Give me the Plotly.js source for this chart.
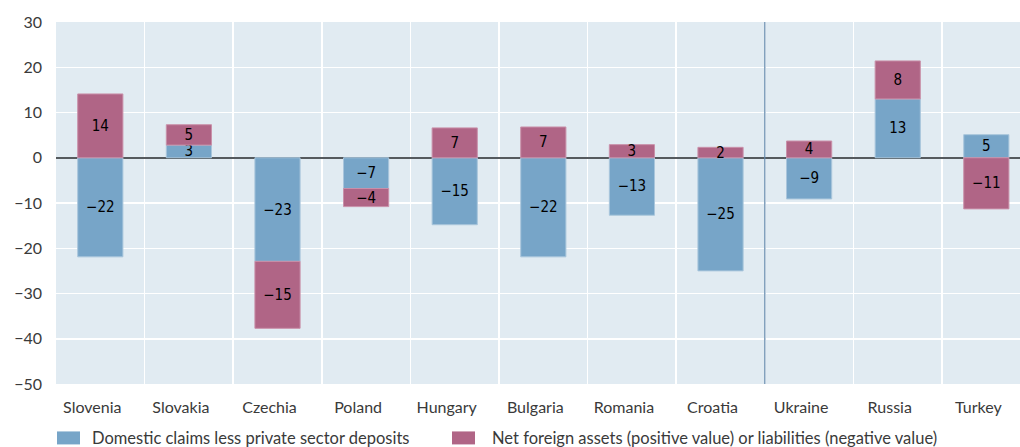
<!DOCTYPE html>
<html><head><meta charset="utf-8">
<script src="https://cdn.plot.ly/plotly-3.0.1.min.js"></script>
<style>html,body{margin:0;padding:0;background:#fff}#chart{width:1020px;height:447px}</style>
</head><body><div id="chart"></div>
<script>
var categories = ["Slovenia","Slovakia","Czechia","Poland","Hungary","Bulgaria","Romania","Croatia","Ukraine","Russia","Turkey"];
var domesticClaims = [-21.9, 2.8, -22.9, -6.8, -14.8, -21.9, -12.7, -25.0, -9.1, 13.0, 5.1];
var netForeign = [14.1, 4.5, -14.8, -4.0, 6.6, 6.8, 2.9, 2.3, 3.7, 8.4, -11.3];
var seriesNames = ["Domestic claims less private sector deposits", "Net foreign assets (positive value) or liabilities (negative value)"];
var seriesColors = ["#77a5c8", "#b06586"];
var yTicks = [-50, -40, -30, -20, -10, 0, 10, 20, 30];

function lbl(v){ var r = Math.round(v); return (r < 0 ? "\u2212" : "") + Math.abs(r); }
function lblArr(a){ return a.map(lbl); }

var textFont = {family: "'DejaVu Sans Condensed', 'DejaVu Sans'", size: 15, color: "#000"};
var traces = [
  {type:"bar", name: seriesNames[0], x: categories, y: domesticClaims, text: lblArr(domesticClaims),
   textposition:"inside", insidetextanchor:"middle", textangle:0, textfont: textFont, insidetextfont: textFont,
   marker:{color:seriesColors[0], line:{color:"#a9c6dc", width:1}}, width:0.51, hoverinfo:"x+y", showlegend:false},
  {type:"bar", name: seriesNames[1], x: categories, y: netForeign, text: lblArr(netForeign),
   textposition:"inside", insidetextanchor:"middle", textangle:0, textfont: textFont, insidetextfont: textFont,
   marker:{color:seriesColors[1], line:{color:"#c991aa", width:1}}, width:0.51, hoverinfo:"x+y", showlegend:false}
];

// plot area in pixels: x 56..1020, y 22..384.5
function px(x){ return (x - 56) / 964; }
function py(y){ return (384.5 - y) / 362.5; }

var legendItems = [{sx:57, tx:90}, {sx:452, tx:490}];
var shapes = [{type:"line", xref:"x", yref:"paper", x0:7.5, x1:7.5, y0:0, y1:1, line:{color:"#5f87ab", width:1.2}}];
var annotations = [];
legendItems.forEach(function(it, i){
  shapes.push({type:"rect", xref:"paper", yref:"paper", x0:px(it.sx), x1:px(it.sx+23), y0:py(445), y1:py(432),
               fillcolor:seriesColors[i], line:{width:0}});
  annotations.push({xref:"paper", yref:"paper", x:px(it.tx), y:py(438.5), xanchor:"left", yanchor:"middle",
                    text:seriesNames[i], showarrow:false, font:{size:16.5, color:"#3a3a3a"}});
});

var layout = {
  width:1020, height:447,
  margin:{l:56, r:0, t:22, b:62.5},
  paper_bgcolor:"#ffffff", plot_bgcolor:"#e1ebf2",
  barmode:"relative",
  font:{family:"Lato, 'Open Sans', sans-serif", size:16, color:"#3a3a3a"},
  uniformtext:{mode:"show", minsize:15},
  xaxis:{range:[-0.5, 10.38], tickson:"boundaries", showgrid:true, gridcolor:"#ffffff", gridwidth:1.5,
         ticks:"", ticklabelstandoff:12, ticklabelshift:-8, tickfont:{size:16, color:"#3a3a3a"}, showline:false, zeroline:false, fixedrange:true},
  yaxis:{range:[-50, 30], tickvals:yTicks, showgrid:true, gridcolor:"#ffffff", gridwidth:1.5,
         zeroline:true, zerolinecolor:"#555a5e", zerolinewidth:1.5, ticks:"", ticklabelstandoff:13,
         tickfont:{size:16, color:"#3a3a3a"}, showline:false, fixedrange:true},
  shapes: shapes,
  annotations: annotations,
  showlegend:false
};
Plotly.newPlot("chart", traces, layout, {displayModeBar:false, staticPlot:true});
</script></body></html>
